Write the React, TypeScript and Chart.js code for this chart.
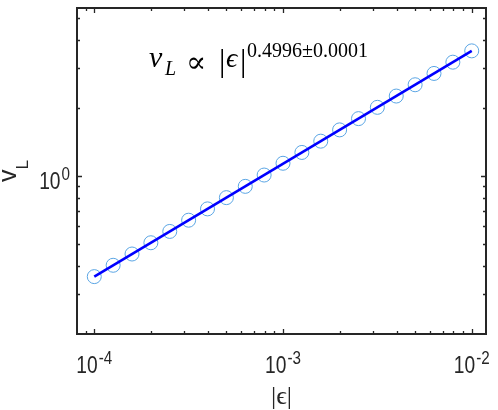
import React, { useEffect, useRef } from 'react';
import { Chart, registerables } from 'chart.js';

Chart.register(...registerables);

// ---- data ----
const epsilonValues = [
  1.0e-4, 1.259e-4, 1.585e-4, 1.995e-4, 2.512e-4, 3.162e-4, 3.981e-4, 5.012e-4, 6.31e-4, 7.943e-4,
  1.0e-3, 1.259e-3, 1.585e-3, 1.995e-3, 2.512e-3, 3.162e-3, 3.981e-3, 5.012e-3, 6.31e-3, 7.943e-3,
  1.0e-2,
];
const vLValues = [
  0.359, 0.403, 0.452, 0.507, 0.569, 0.638, 0.716, 0.803, 0.901, 1.011,
  1.14, 1.273, 1.428, 1.602, 1.797, 2.016, 2.262, 2.538, 2.848, 3.195,
  3.585,
];
const fitEpsilon = [1e-4, 1e-2];
const fitValues = [0.359, 3.585];

const xMajorTicks = [1e-4, 1e-3, 1e-2];
const xTickExponents = ['-4', '-3', '-2'];
const xMinorTicks = [
  9e-5, 2e-4, 3e-4, 4e-4, 5e-4, 6e-4, 7e-4, 8e-4, 9e-4,
  2e-3, 3e-3, 4e-3, 5e-3, 6e-3, 7e-3, 8e-3, 9e-3,
];
const yMajorTicks = [1];
const yTickExponents = ['0'];
const yMinorTicks = [0.3, 0.4, 0.5, 0.6, 0.7, 0.8, 0.9, 2, 3, 4, 5];

const xTitle = '|ϵ|';
const yTitleMain = 'v';
const yTitleSub = 'L';
const fitExponentLabel = '0.4996±0.0001';

const X_MIN = 8.1e-5;
const X_MAX = 0.0119;
const Y_MIN = 0.2;
const Y_MAX = 5.55;

const AXIS_COLOR = '#262626';
const SANS = "'Liberation Sans', Arial, sans-serif";
const SERIF = "'Liberation Serif', 'DejaVu Serif', serif";

const decorPlugin = {
  id: 'matlabDecor',
  afterDatasetsDraw(chart: any) {
    const ctx: CanvasRenderingContext2D = chart.ctx;
    const { left, right, top, bottom } = chart.chartArea;
    const xs = chart.scales.x;
    const ys = chart.scales.y;
    ctx.save();

    // box
    ctx.strokeStyle = AXIS_COLOR;
    ctx.lineWidth = 2;
    ctx.strokeRect(left, top, right - left, bottom - top);

    // ticks (inward, all four sides)
    ctx.lineWidth = 1.3;
    const xTick = (v: number, len: number) => {
      const px = Math.round(xs.getPixelForValue(v)) + 0.5;
      ctx.beginPath();
      ctx.moveTo(px, bottom);
      ctx.lineTo(px, bottom - len);
      ctx.moveTo(px, top);
      ctx.lineTo(px, top + len);
      ctx.stroke();
    };
    const yTick = (v: number, len: number) => {
      const py = Math.round(ys.getPixelForValue(v)) + 0.5;
      ctx.beginPath();
      ctx.moveTo(left, py);
      ctx.lineTo(left + len, py);
      ctx.moveTo(right, py);
      ctx.lineTo(right - len, py);
      ctx.stroke();
    };
    xMajorTicks.forEach((v) => xTick(v, 5));
    xMinorTicks.forEach((v) => xTick(v, 3));
    yMajorTicks.forEach((v) => yTick(v, 5));
    yMinorTicks.forEach((v) => yTick(v, 3));

    // tick labels (10^n), narrow sans as in the reference
    const sx = 0.8;
    const baseFont = `24px ${SANS}`;
    const expFont = `19px ${SANS}`;
    ctx.fillStyle = AXIS_COLOR;
    ctx.textBaseline = 'alphabetic';
    ctx.textAlign = 'left';
    const drawPow = (exp: string, xRef: number, baseY: number, align: 'center' | 'right') => {
      ctx.font = baseFont;
      const wb = ctx.measureText('10').width * sx;
      ctx.font = expFont;
      const we = ctx.measureText(exp).width * sx;
      const total = wb + we + 1;
      const x0 = align === 'center' ? xRef - total / 2 : xRef - total;
      ctx.save();
      ctx.translate(x0, 0);
      ctx.scale(sx, 1);
      ctx.font = baseFont;
      ctx.fillText('10', 0, baseY);
      ctx.font = expFont;
      ctx.fillText(exp, (wb + 1) / sx, baseY - 9);
      ctx.restore();
    };
    xMajorTicks.forEach((v, i) => drawPow(xTickExponents[i], xs.getPixelForValue(v), 373, 'center'));
    yMajorTicks.forEach((v, i) => drawPow(yTickExponents[i], left - 7, ys.getPixelForValue(v) + 13, 'right'));

    // x title
    ctx.font = `26px ${SERIF}`;
    ctx.textAlign = 'center';
    ctx.fillStyle = AXIS_COLOR;
    ctx.fillText(xTitle, (left + right) / 2, 404);

    // y title (rotated)
    ctx.save();
    ctx.translate(16, (top + bottom) / 2);
    ctx.rotate(-Math.PI / 2);
    ctx.textAlign = 'left';
    ctx.font = `25px ${SANS}`;
    const wv = ctx.measureText(yTitleMain).width;
    ctx.font = `17px ${SANS}`;
    const wl = ctx.measureText(yTitleSub).width;
    const start = -(wv + wl) / 2;
    ctx.font = `25px ${SANS}`;
    ctx.fillText(yTitleMain, start, 0);
    ctx.font = `17px ${SANS}`;
    ctx.fillText(yTitleSub, start + wv, 12);
    ctx.restore();

    // annotation  v_L ∝ |ϵ|^{...}
    ctx.fillStyle = '#000';
    ctx.textAlign = 'left';
    ctx.font = `italic 30px ${SERIF}`;
    ctx.fillText('v', 149, 67);
    ctx.font = `italic 20px ${SERIF}`;
    ctx.fillText('L', 165, 75);
    ctx.font = `30px 'DejaVu Serif', serif`;
    ctx.fillText('∝', 186, 72);
    ctx.font = `32px ${SERIF}`;
    ctx.fillText('|', 219, 71);
    ctx.font = `italic 28px ${SERIF}`;
    ctx.fillText('ϵ', 226, 67);
    ctx.font = `32px ${SERIF}`;
    ctx.fillText('|', 240, 71);
    ctx.font = `20px ${SERIF}`;
    ctx.fillText(fitExponentLabel, 247, 57);

    ctx.restore();
  },
};

export default function App() {
  const ref = useRef<HTMLCanvasElement | null>(null);
  useEffect(() => {
    if (!ref.current) return;
    const chart = new Chart(ref.current, {
      type: 'scatter',
      data: {
        datasets: [
          {
            label: 'fit',
            data: fitEpsilon.map((x, i) => ({ x, y: fitValues[i] })),
            showLine: true,
            borderColor: '#0000ff',
            borderWidth: 2.6,
            pointRadius: 0,
            fill: false,
          },
          {
            label: 'data',
            data: epsilonValues.map((x, i) => ({ x, y: vLValues[i] })),
            showLine: false,
            pointRadius: 7,
            pointBorderWidth: 1,
            pointBorderColor: 'rgb(90,165,228)',
            pointBackgroundColor: 'rgba(0,0,0,0)',
          },
        ],
      },
      options: {
        responsive: false,
        animation: false,
        devicePixelRatio: 1,
        layout: { padding: { left: 77, right: 12, top: 2, bottom: 76 } },
        scales: {
          x: { type: 'logarithmic', min: X_MIN, max: X_MAX, display: false },
          y: { type: 'logarithmic', min: Y_MIN, max: Y_MAX, display: false },
        },
        plugins: { legend: { display: false }, tooltip: { enabled: false } },
      },
      plugins: [decorPlugin],
    } as any);
    return () => chart.destroy();
  }, []);
  return (
    <canvas
      ref={ref}
      width={498}
      height={410}
      style={{ position: 'absolute', left: 0, top: 0, width: 498, height: 410, background: '#fff' }}
    />
  );
}
